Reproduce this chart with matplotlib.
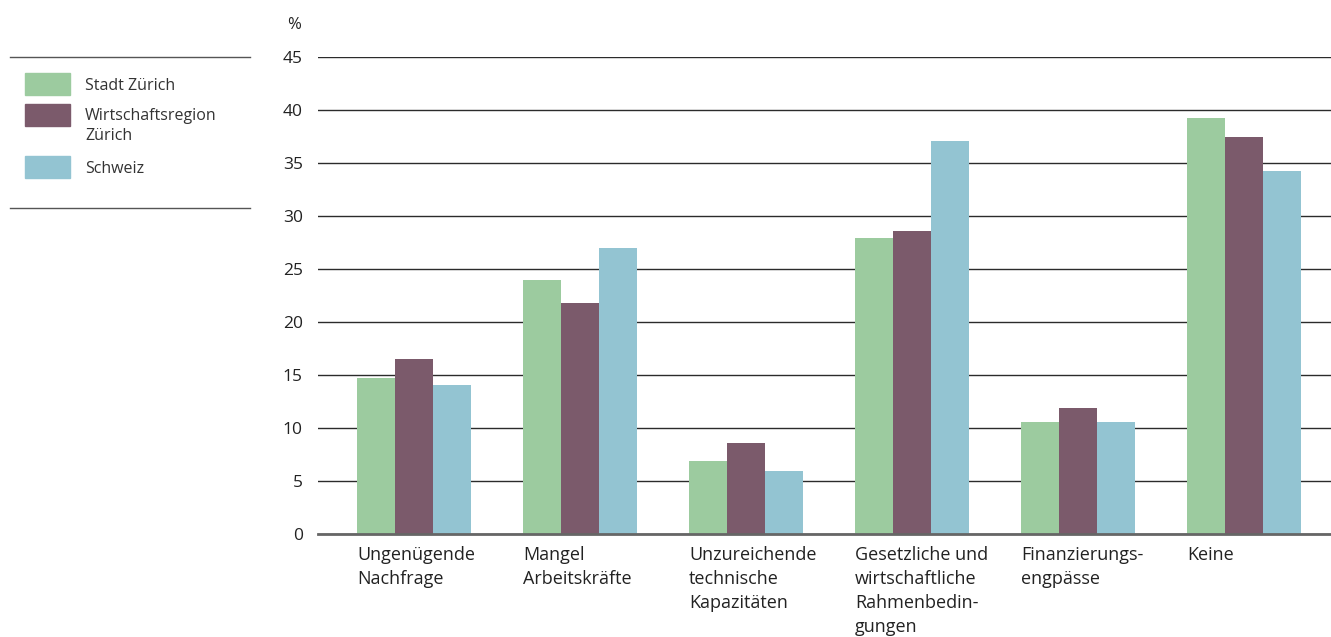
import numpy as np
import matplotlib.pyplot as plt
from matplotlib.patches import Rectangle
from matplotlib.lines import Line2D

plt.rcParams['font.family'] = ['Open Sans', 'DejaVu Sans']

# data
categories = ['Ungenügende\nNachfrage', 'Mangel\nArbeitskräfte', 'Unzureichende\ntechnische\nKapazitäten',
              'Gesetzliche und\nwirtschaftliche\nRahmenbedin-\ngungen', 'Finanzierungs-\nengpässe', 'Keine']
series = ['Stadt Zürich', 'Wirtschaftsregion\nZürich', 'Schweiz']
stadt = [14.7, 24.0, 6.9, 27.9, 10.6, 39.2]
region = [16.5, 21.8, 8.6, 28.6, 11.9, 37.5]
schweiz = [14.1, 27.0, 5.9, 37.1, 10.6, 34.2]
colors = ['#9ccb9f', '#7b5a6b', '#93c4d2']

W, H = 1331, 637
fig = plt.figure(figsize=(W / 100, H / 100), dpi=100)
ax = fig.add_axes([318 / W, (H - 534) / H, 1 - 318 / W, (534 - 57) / H])

x = np.arange(len(categories))
w = 0.229
for i, (vals, c) in enumerate(zip([stadt, region, schweiz], colors)):
    ax.bar(x + (i - 1) * w, vals, width=w, color=c, zorder=2)

ax.set_ylim(0, 45)
ax.set_xlim(-0.578, 5.524)
ax.set_yticks(range(0, 50, 5))
ax.yaxis.grid(True, color='#2b2b2b', lw=1.0, zorder=1)
ax.set_axisbelow(True)
for s in ['top', 'right', 'left']:
    ax.spines[s].set_visible(False)
ax.spines['bottom'].set_color('#666666')
ax.spines['bottom'].set_linewidth(2)
ax.spines['bottom'].set_zorder(3)
ax.tick_params(axis='y', length=0, pad=11, labelsize=12.5, labelcolor='#222222')
ax.set_xticks(x - 1.5 * w)
ax.set_xticklabels(categories, ha='left', fontsize=13, color='#222222', linespacing=1.42)
ax.tick_params(axis='x', length=0, pad=9)
ax.text(-0.017, 1.05, '%', transform=ax.transAxes, ha='right', va='bottom', fontsize=12, color='#222222')

# legend block at the left, drawn by hand so swatches line up with the first text line
legend_rows = [73, 104, 156]
for yy, c, lab in zip(legend_rows, colors, series):
    fig.add_artist(Rectangle((25 / W, 1 - (yy + 22) / H), 45 / W, 22 / H, color=c, transform=fig.transFigure))
    for k, line in enumerate(lab.split('\n')):
        fig.text(85 / W, 1 - (yy + 16.5 + k * 19.5) / H, line, ha='left', va='baseline',
                 fontsize=11.5, color='#333333')
for yy in [57, 208]:
    fig.add_artist(Line2D([10 / W, 250 / W], [1 - yy / H, 1 - yy / H], color='#555555', lw=1.0))

fig.savefig('out.png', dpi=100)
